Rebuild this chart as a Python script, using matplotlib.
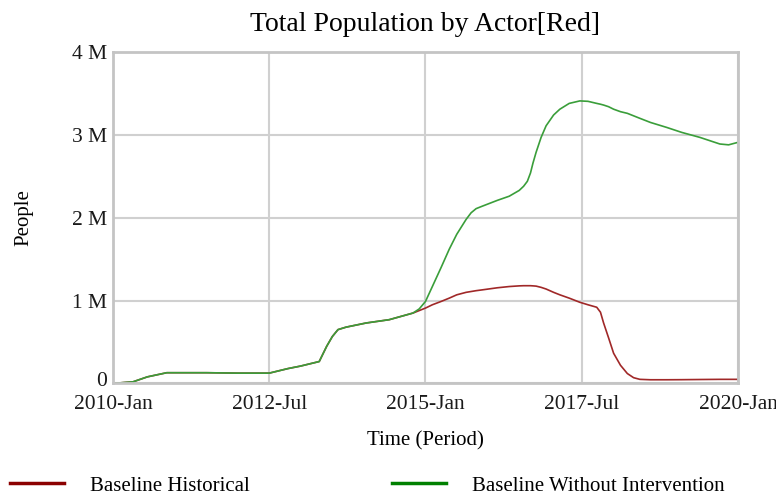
import matplotlib
matplotlib.use("Agg")
import matplotlib.pyplot as plt
import matplotlib.transforms as mtransforms
import numpy as np

# time in years, values in millions of people
years = [2010.0, 2010.15, 2010.32, 2010.55, 2010.86, 2011.5, 2012.0, 2012.5,
         2012.8, 2013.0, 2013.3, 2013.42, 2013.51, 2013.6, 2013.73, 2014.05,
         2014.42, 2014.8, 2014.9, 2015.0, 2015.11, 2015.25, 2015.38, 2015.5,
         2015.65, 2015.73, 2015.81, 2015.91, 2016.15, 2016.34, 2016.5, 2016.57,
         2016.63, 2016.68, 2016.72, 2016.77, 2016.85, 2016.93, 2017.05, 2017.15,
         2017.3, 2017.47, 2017.6, 2017.74, 2017.8, 2017.85, 2017.93, 2018.01,
         2018.12, 2018.23, 2018.33, 2018.43, 2018.6, 2018.86, 2019.1, 2019.39,
         2019.71, 2019.85, 2020.0]

historical = [0.0, 0.01, 0.02, 0.08, 0.13, 0.13, 0.125, 0.125,
              0.18, 0.21, 0.265, 0.45, 0.567, 0.65, 0.68, 0.73,
              0.77, 0.85, 0.88, 0.91, 0.95, 0.99, 1.03, 1.07,
              1.1, 1.11, 1.12, 1.13, 1.155, 1.17, 1.178, 1.18,
              1.18, 1.18, 1.178, 1.175, 1.16, 1.14, 1.1, 1.07,
              1.03, 0.98, 0.95, 0.92, 0.86, 0.73, 0.55, 0.365,
              0.22, 0.12, 0.07, 0.05, 0.045, 0.045, 0.046, 0.048,
              0.05, 0.05, 0.05]

without_intervention = [0.0, 0.01, 0.02, 0.08, 0.13, 0.13, 0.125, 0.125,
                        0.18, 0.21, 0.265, 0.45, 0.567, 0.65, 0.68, 0.73,
                        0.77, 0.85, 0.9, 0.99, 1.17, 1.4, 1.62, 1.8,
                        1.98, 2.06, 2.11, 2.14, 2.21, 2.26, 2.33, 2.38,
                        2.44, 2.54, 2.66, 2.79, 2.97, 3.11, 3.24, 3.31,
                        3.38, 3.41, 3.405, 3.38, 3.37, 3.36, 3.34, 3.31,
                        3.28, 3.26, 3.23, 3.2, 3.15, 3.09, 3.03, 2.97,
                        2.89, 2.88, 2.91]

tick_years = [2010, 2012.5, 2015, 2017.5, 2020]
tick_labels = ["2010-Jan", "2012-Jul", "2015-Jan", "2017-Jul", "2020-Jan"]
y_ticks = [0, 1, 2, 3, 4]
y_labels = ["0", "1 M", "2 M", "3 M", "4 M"]

plt.rcParams['font.family'] = ['Liberation Serif', 'DejaVu Serif']

fig = plt.figure(figsize=(7.76, 4.94), dpi=100)
ax = fig.add_axes([0.1456, 0.2237, 0.8054, 0.671])

ax.plot(years, historical, color='#a02828', lw=1.2, label='Baseline Historical')
ax.plot(years, without_intervention, color='#3a9e3a', lw=1.2,
        label='Baseline Without Intervention')

ax.set_xlim(2010, 2020)
ax.set_ylim(0, 4)
ax.set_xticks(tick_years)
ax.set_xticklabels(tick_labels)
ax.set_yticks(y_ticks)
ax.set_yticklabels(y_labels)
ax.tick_params(length=0, labelsize=15.5, colors='#1a1a1a')
ax.tick_params(axis='x', pad=8)
ax.tick_params(axis='y', pad=4)
ax.grid(True, color='#d0d0d0', lw=1.5)
ax.set_axisbelow(True)
for s in ax.spines.values():
    s.set_color('#c4c4c4')
    s.set_linewidth(2)

# nudge the "0" label up a little, like the original
lbl0 = ax.get_yticklabels()[0]
lbl0.set_transform(lbl0.get_transform() +
                   mtransforms.ScaledTranslation(0, 4 / 100, fig.dpi_scale_trans))

ax.set_title("Total Population by Actor[Red]", fontsize=20, pad=15)
ax.set_xlabel("Time (Period)", fontsize=15, labelpad=13)
ax.set_ylabel("People", fontsize=15, labelpad=28)

handles = [plt.Line2D([], [], color='#8b0000', lw=2.5),
           plt.Line2D([], [], color='#008000', lw=2.5)]
fig.legend(handles, ['Baseline Historical', 'Baseline Without Intervention'],
           loc='lower left', bbox_to_anchor=(0.002, -0.02), ncol=2, frameon=False,
           fontsize=15, handlelength=2.6, handletextpad=1.25, columnspacing=6.8,
           borderaxespad=0)

fig.savefig("out.png", dpi=100)
